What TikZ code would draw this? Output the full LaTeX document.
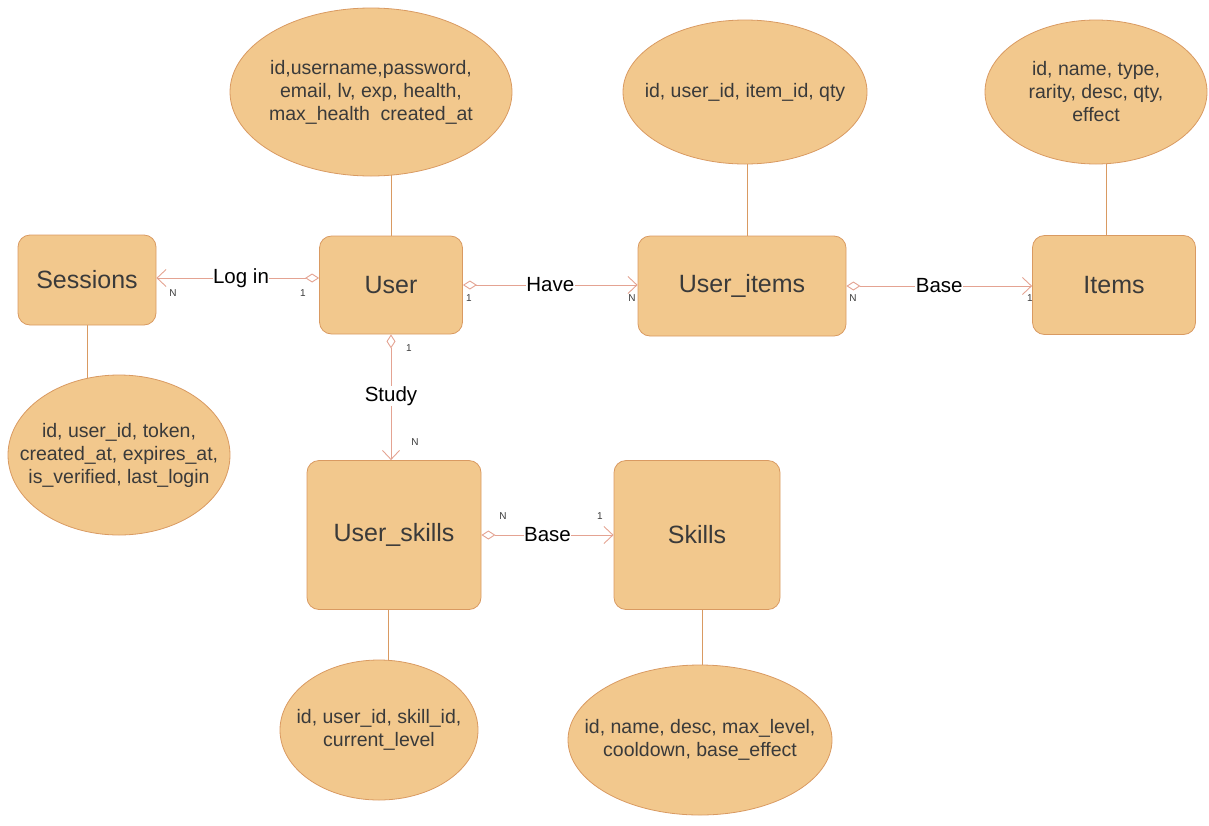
\documentclass[tikz,border=0pt]{standalone}
\usepackage{fontspec}
\setmainfont{Liberation Sans}
\usetikzlibrary{arrows.meta, backgrounds}
\definecolor{efill}{HTML}{F2C88D}
\definecolor{eline}{HTML}{D99A62}
\definecolor{rline}{HTML}{E4A392}
\definecolor{etext}{HTML}{3A3A3A}
\tikzset{
  every picture/.style={x=1pt, y=-1pt},
  entity/.style={draw=eline, fill=efill, rounded corners=12pt, line width=0.8pt,
    text=etext, font=\fontsize{25}{28}\selectfont},
  attr/.style={draw=eline, fill=efill, ellipse, line width=0.8pt, align=center,
    text=etext, font=\fontsize{19.5}{23}\selectfont, inner sep=-30pt},
  rel/.style={draw=rline, line width=0.9pt,
    {Diamond[open, fill=white, length=14pt, width=9pt]}-{Straight Barb[length=9pt, width=17pt]}},
  link/.style={draw=eline, line width=0.8pt},
  rlabel/.style={font=\fontsize{20.5}{23}\selectfont, fill=white, inner sep=0.5pt},
  card/.style={font=\fontsize{10}{11}\selectfont, text=etext, inner sep=0pt},
}
\usetikzlibrary{shapes.geometric}

\begin{document}
\begin{tikzpicture}
  \useasboundingbox (0,0) rectangle (1209,825);
  % entities
  \node[entity, minimum width=138pt, minimum height=90pt] (sessions) at (87,280) {Sessions};
  \node[entity, minimum width=143pt, minimum height=98pt] (user) at (391,285) {User};
  \node[entity, minimum width=208pt, minimum height=100pt] (uitems) at (742,286) {User\_items};
  \node[entity, minimum width=163pt, minimum height=99pt] (items) at (1114,285) {Items};
  \node[entity, minimum width=174pt, minimum height=149pt] (uskills) at (394,535) {User\_skills};
  \node[entity, minimum width=166pt, minimum height=149pt] (skills) at (697,535) {Skills};
  % attributes
  \node[attr, minimum width=282pt, minimum height=168pt] (uattr) at (371,92)
    {id,username,password,\\email, lv, exp, health,\\max\_health\ \ created\_at};
  \node[attr, minimum width=244pt, minimum height=144pt] (uiattr) at (745,92)
    {id, user\_id, item\_id, qty};
  \node[attr, minimum width=222pt, minimum height=144pt] (iattr) at (1096,92)
    {id, name, type,\\rarity, desc, qty,\\effect};
  \node[attr, minimum width=222pt, minimum height=160pt] (sattr) at (119,455)
    {id, user\_id, token,\\created\_at, expires\_at,\\is\_verified, last\_login};
  \node[attr, minimum width=198pt, minimum height=140pt] (usattr) at (379,730)
    {id, user\_id, skill\_id,\\current\_level};
  \node[attr, minimum width=264pt, minimum height=150pt] (skattr) at (700,740)
    {id, name, desc, max\_level,\\cooldown, base\_effect};
  % attribute links
  \begin{scope}[on background layer]
    \draw[link] (user.north) -- (user.north |- uattr.center);
    \draw[link] ([xshift=5pt]uitems.north) -- ([xshift=5pt]uitems.north |- uiattr.center);
    \draw[link] ([xshift=-8pt]items.north) -- ([xshift=-8pt]items.north |- iattr.center);
    \draw[link] (sessions.south) -- (sessions.south |- sattr.center);
    \draw[link] ([xshift=-6pt]uskills.south) -- ([xshift=-6pt]uskills.south |- usattr.center);
    \draw[link] ([xshift=5pt]skills.south) -- ([xshift=5pt]skills.south |- skattr.center);
  \end{scope}
  % relations
  \draw[rel] ([yshift=7pt]user.west) -- ([yshift=7pt]user.west -| sessions.east)
    node[rlabel, pos=0.48] (login) {Log in};
  \draw[rel] (user.east) -- (user.east -| uitems.west)
    node[rlabel, midway] (have) {Have};
  \draw[rel] (uitems.east) -- (uitems.east -| items.west)
    node[rlabel, midway] (ibase) {Base};
  \draw[rel] (user.south) -- (user.south |- uskills.north)
    node[rlabel, pos=0.49] (study) {Study};
  \draw[rel] (uskills.east) -- (uskills.east -| skills.west)
    node[rlabel, midway] (sbase) {Base};
  % cardinalities
  \node[card] (c1) at (173,293) {N};
  \node[card] (c2) at (303,293) {1};
  \node[card] (c3) at (469,298) {1};
  \node[card] (c4) at (632,298) {N};
  \node[card] (c5) at (853,298) {N};
  \node[card] (c6) at (1030,298) {1};
  \node[card] (c7) at (409,348) {1};
  \node[card] (c8) at (415,442) {N};
  \node[card] (c9) at (503,516) {N};
  \node[card] (c10) at (600,516) {1};
\end{tikzpicture}
\end{document}
